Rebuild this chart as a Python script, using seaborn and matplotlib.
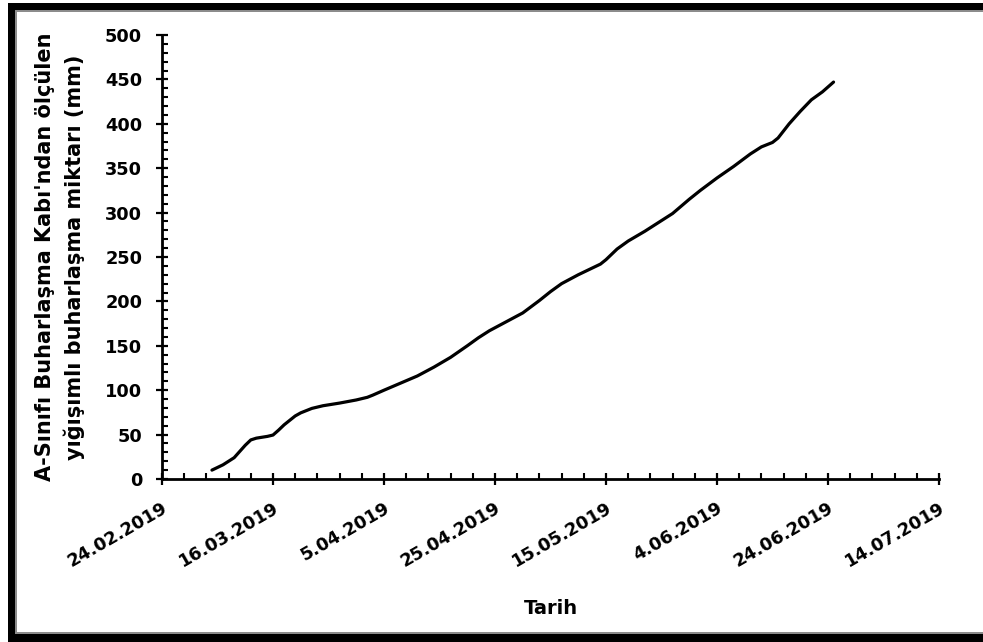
import matplotlib
matplotlib.use("Agg")
import matplotlib.pyplot as plt
import matplotlib.ticker as mticker
from matplotlib.patches import Rectangle
import pandas as pd
import seaborn as sns

# Cumulative Class-A pan evaporation readings
dates = ["05.03.2019", "07.03.2019", "09.03.2019", "10.03.2019", "11.03.2019",
         "12.03.2019", "13.03.2019", "14.03.2019", "15.03.2019", "16.03.2019",
         "17.03.2019", "18.03.2019", "19.03.2019", "20.03.2019", "21.03.2019",
         "23.03.2019", "25.03.2019", "28.03.2019", "31.03.2019", "02.04.2019",
         "03.04.2019", "05.04.2019", "08.04.2019", "11.04.2019", "14.04.2019",
         "17.04.2019", "20.04.2019", "22.04.2019", "24.04.2019", "27.04.2019",
         "30.04.2019", "03.05.2019", "05.05.2019", "07.05.2019", "10.05.2019",
         "14.05.2019", "15.05.2019", "17.05.2019", "19.05.2019", "22.05.2019",
         "25.05.2019", "27.05.2019", "30.05.2019", "01.06.2019", "04.06.2019",
         "07.06.2019", "10.06.2019", "12.06.2019", "14.06.2019", "15.06.2019",
         "16.06.2019", "17.06.2019", "19.06.2019", "21.06.2019", "23.06.2019",
         "25.06.2019"]
evaporation_mm = [10, 16, 24, 31, 38,
                  44, 46, 47, 48, 49.5,
                  55, 61, 66, 71, 74.5,
                  79.5, 82.5, 85.5, 89, 92,
                  94.5, 100, 108, 116, 126,
                  137, 150, 159, 167, 177,
                  187, 201, 211, 220, 230,
                  242, 247, 259, 268, 279,
                  291, 299, 315, 325, 339,
                  352, 366, 374, 379, 384,
                  392, 400, 414, 427, 436,
                  447]

x_tick_labels = ["24.02.2019", "16.03.2019", "5.04.2019", "25.04.2019",
                 "15.05.2019", "4.06.2019", "24.06.2019", "14.07.2019"]
y_ticks = [0, 50, 100, 150, 200, 250, 300, 350, 400, 450, 500]

df = pd.DataFrame({"Tarih": pd.to_datetime(dates, format="%d.%m.%Y"),
                   "mm": evaporation_mm})
x_ticks = pd.to_datetime(x_tick_labels, format="%d.%m.%Y")

sns.set_theme(style="white")
plt.rcParams["font.family"] = ["DejaVu Sans"]
plt.rcParams["font.weight"] = "bold"

fig = plt.figure(figsize=(9.83, 6.42), dpi=100)
fig.patch.set_facecolor("white")

# frame around the chart area (open on the right edge)
W, H = 983.0, 642.0
fig.add_artist(Rectangle((8 / W, -0.05), 1.0, 1.05 - 3 / H, transform=fig.transFigure,
                         facecolor="black", edgecolor="none", zorder=-10))
fig.add_artist(Rectangle((15 / W, 8 / H), 1.0, 1 - 18 / H, transform=fig.transFigure,
                         facecolor="#8c8c8c", edgecolor="none", zorder=-9))
fig.add_artist(Rectangle((17 / W, 10 / H), 1.0, 1 - 22 / H, transform=fig.transFigure,
                         facecolor="white", edgecolor="none", zorder=-8))

ax = fig.add_axes([162 / W, 1 - 479 / H, (939 - 162) / W, (479 - 35) / H])
ax.set_facecolor("none")

sns.lineplot(data=df, x="Tarih", y="mm", ax=ax, color="black", linewidth=2.3,
             solid_joinstyle="round", solid_capstyle="round")

ax.set_xlim(x_ticks[0], x_ticks[-1])
ax.set_ylim(0, 500)

ax.xaxis.set_major_locator(mticker.FixedLocator(matplotlib.dates.date2num(x_ticks)))
ax.set_xticklabels(x_tick_labels)
minor_x = pd.date_range(x_ticks[0], x_ticks[-1], freq="4D")
ax.xaxis.set_minor_locator(mticker.FixedLocator(matplotlib.dates.date2num(minor_x)))

ax.yaxis.set_major_locator(mticker.FixedLocator(y_ticks))
ax.yaxis.set_minor_locator(mticker.MultipleLocator(10))

for s in ["top", "right"]:
    ax.spines[s].set_visible(False)
for s in ["left", "bottom"]:
    ax.spines[s].set_linewidth(2.0)
    ax.spines[s].set_color("black")

ax.tick_params(axis="both", which="major", direction="inout", length=8.5, width=1.6,
               color="black", labelsize=12.8, labelcolor="black")
ax.tick_params(axis="both", which="minor", direction="in", length=4.2, width=1.5,
               color="black")
ax.tick_params(axis="y", which="major", pad=10)
ax.tick_params(axis="x", which="major", pad=10)
ax.tick_params(axis="both", which="both", bottom=True, left=True)

for lab in ax.get_xticklabels():
    lab.set_rotation(30)
    lab.set_ha("right")
    lab.set_rotation_mode("anchor")
    lab.set_fontweight("bold")
for lab in ax.get_yticklabels():
    lab.set_fontweight("bold")

ax.set_xlabel("Tarih", fontsize=14, fontweight="bold", color="black", va="center")
ax.xaxis.set_label_coords(0.5, -(609 - 479) / (479 - 35))
ax.set_ylabel("A-Sınıfı Buharlaşma Kabı'ndan ölçülen\nyığışımlı buharlaşma miktarı (mm)",
              fontsize=15, fontweight="bold", color="black", va="center",
              linespacing=1.45, ha="center")
ax.yaxis.set_label_coords(-(162 - 60) / (939 - 162), 0.5)

fig.savefig("out.png", dpi=100)
